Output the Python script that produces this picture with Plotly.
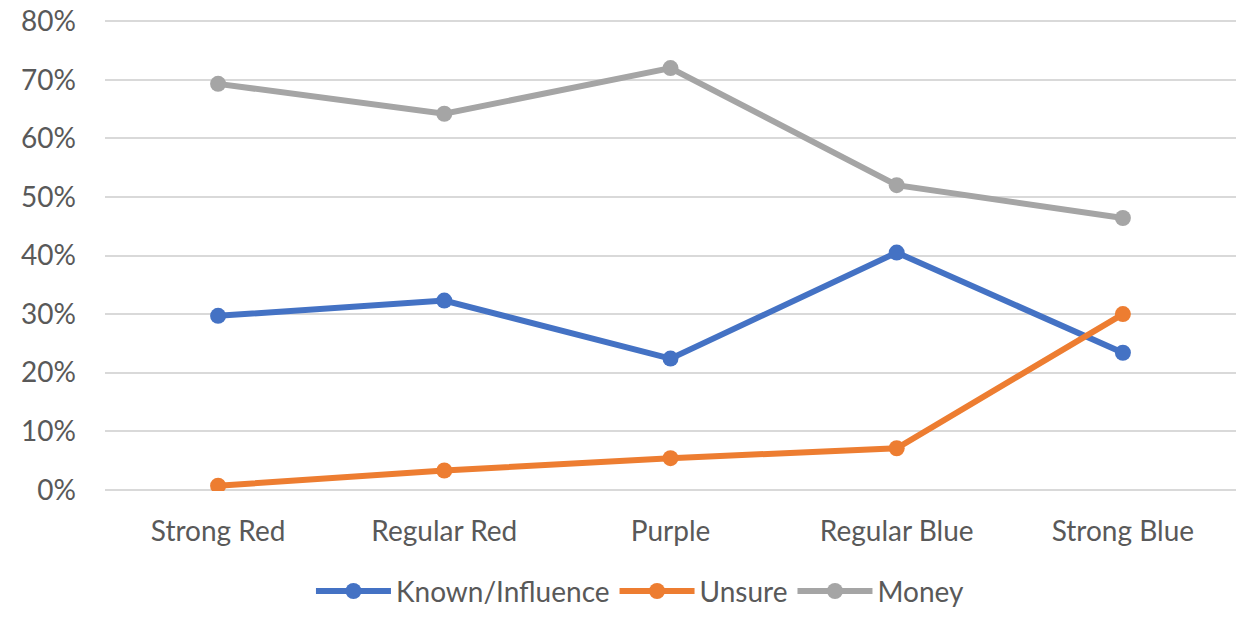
import plotly.graph_objects as go

categories = ["Strong Red", "Regular Red", "Purple", "Regular Blue", "Strong Blue"]
known_influence = [0.297, 0.323, 0.224, 0.405, 0.234]
unsure = [0.007, 0.033, 0.054, 0.071, 0.300]
money = [0.693, 0.642, 0.720, 0.520, 0.464]
y_ticks = [0, 0.1, 0.2, 0.3, 0.4, 0.5, 0.6, 0.7, 0.8]

series = [
    ("Known/Influence", known_influence, "#4472C4"),
    ("Unsure", unsure, "#ED7D31"),
    ("Money", money, "#A5A5A5"),
]

fig = go.Figure()
for name, vals, color in series:
    fig.add_trace(go.Scatter(
        x=categories, y=vals, name=name, mode="lines+markers",
        line=dict(color=color, width=6),
        marker=dict(color=color, size=16),
    ))

font_color = "#595959"
fs = 28
fig.update_layout(
    width=1241, height=621,
    margin=dict(l=105, r=5, t=20, b=117),
    paper_bgcolor="white", plot_bgcolor="white",
    font=dict(family="Lato, Carlito, 'Open Sans', sans-serif", size=fs, color=font_color),
    showlegend=True,
    legend=dict(orientation="h", x=0.473, xanchor="center", y=-0.213, yanchor="middle",
                font=dict(size=fs, color=font_color), itemwidth=75, tracegroupgap=0),
    xaxis=dict(showgrid=False, showline=False, zeroline=False, ticks="",
               tickfont=dict(size=fs, color=font_color), ticklabelstandoff=21,
               range=[-0.5, 4.5], automargin=False),
    yaxis=dict(range=[-0.002, 0.802], tickvals=y_ticks, tickformat=".0%",
               showgrid=True, gridcolor="#D9D9D9", gridwidth=2,
               zeroline=False, showline=False, ticks="",
               tickfont=dict(size=fs, color=font_color), ticklabelstandoff=28,
               ticklabeloverflow="allow", automargin=False),
)

post = (
    "document.documentElement.style.margin='0';"
    "document.body.style.margin='0';"
    "document.body.style.overflow='hidden';"
    "var d=document.querySelector('.plotly-graph-div');"
    "d.style.position='fixed';d.style.top='0px';d.style.left='0px';"
)

fig.write_html(
    "out.html",
    config={"displayModeBar": False},
    post_script=post,
)
